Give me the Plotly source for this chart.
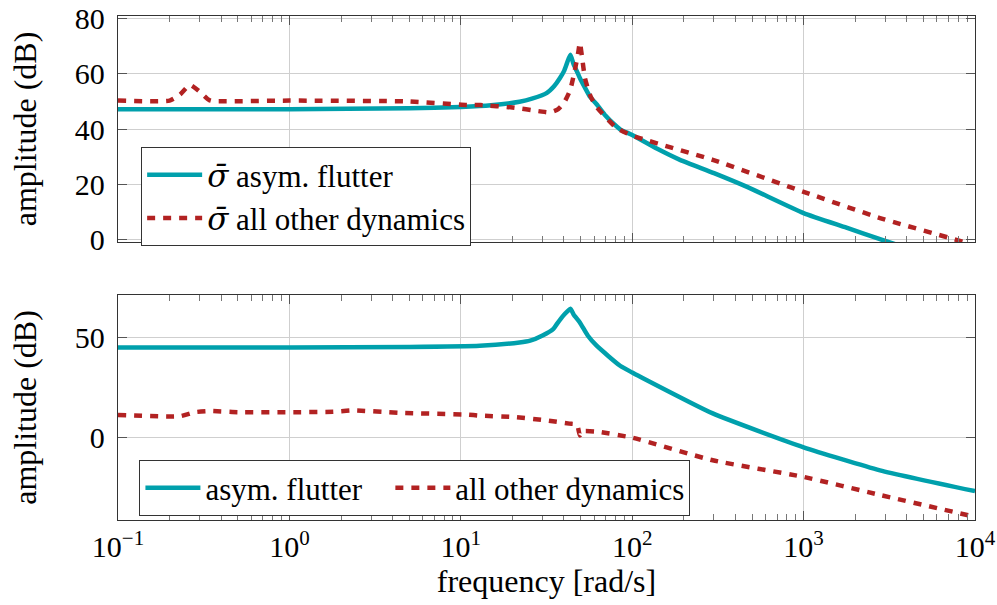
import plotly.graph_objects as go
from plotly.subplots import make_subplots

# ---- upper panel: singular value amplitude (dB) ----
f_top_flutter = [0.1, 1, 5, 10, 15, 22, 26, 31.8, 35, 37.9, 40, 41.7, 43.6, 45.5, 47.5, 49.5, 53, 57, 62, 70, 77, 85, 100, 140, 190, 300, 468, 1000, 1778, 2790, 3500]
a_top_flutter = [47.2, 47.2, 47.5, 48.0, 48.6, 49.9, 51.0, 53.1, 55.5, 58.5, 61.0, 64.0, 66.9, 63.5, 61.0, 58.5, 55.0, 51.5, 49.0, 44.8, 42.2, 39.9, 37.8, 32.8, 28.8, 24.0, 19.0, 9.5, 4.2, 0.0, -2.0]

f_top_other = [0.1, 0.2, 0.23, 0.263, 0.3, 0.34, 0.36, 1, 5, 10.9, 13, 20, 29, 33, 37, 40, 43.4, 46.5, 48.5, 49.5, 51, 53, 57, 62, 81, 100, 295, 1000, 2790, 8900, 10000]
a_top_other = [50.3, 50.3, 52.5, 56.0, 53.5, 50.5, 50.1, 50.3, 50.0, 48.7, 48.7, 47.8, 46.4, 46.0, 47.2, 49.5, 54.0, 62.0, 68.0, 71.3, 66.0, 58.5, 52.0, 48.0, 40.4, 37.6, 28.8, 17.2, 7.7, -1.3, -2.5]

# ---- lower panel: amplitude (dB) ----
f_bot_flutter = [0.1, 1, 5, 12.9, 22, 25.4, 30, 34.7, 36.4, 39.5, 42, 43.6, 45.5, 49.5, 55, 62, 85, 100, 108, 295, 1000, 2790, 10000]
a_bot_flutter = [45.0, 45.0, 45.3, 45.9, 47.5, 48.4, 51.0, 54.3, 56.8, 60.8, 63.2, 64.3, 61.5, 57.5, 51.0, 45.9, 35.9, 32.5, 31.0, 12.1, -4.8, -16.3, -26.7]

f_bot_other = [0.1, 0.23, 0.28, 0.344, 0.5, 1, 1.8, 2.35, 4.4, 10.9, 12.9, 21, 31.6, 43, 47.6, 49.5, 51, 62, 100, 295, 1000, 2790, 10000]
a_bot_other = [11.3, 10.7, 12.7, 13.3, 12.7, 12.7, 12.9, 13.6, 12.4, 11.5, 11.0, 10.2, 8.6, 7.0, 6.5, 1.1, 3.1, 3.0, 0.0, -11.3, -19.6, -28.6, -39.5]

x_tickvals = [0.1, 1, 10, 100, 1000, 10000]
x_ticktext = ["10<sup>\u22121</sup>", "10<sup>0</sup>", "10<sup>1</sup>", "10<sup>2</sup>", "10<sup>3</sup>", "10<sup>4</sup>"]
x_minor = [m * 10 ** e for e in range(-1, 4) for m in range(2, 10)]

TEAL = "#00a0ac"
RED = "#b22222"
FONT = "Liberation Serif, Times New Roman, serif"
FS_TICK = 30
FS_TITLE = 32
FS_LEG = 31
DASH = "8px,8px"
SIGMA_BAR = "<span style=\"font-family:DejaVu Serif;font-style:italic\">\u03c3\u0304</span>"
NBSP = "\u00a0"

fig = make_subplots(rows=2, cols=1, shared_xaxes=True, vertical_spacing=0.105)

line_shape = dict(shape="spline", smoothing=0.5)

fig.add_trace(go.Scatter(x=f_top_flutter, y=a_top_flutter, mode="lines",
                         line=dict(color=TEAL, width=4.5, **line_shape),
                         name=SIGMA_BAR + " asym. flutter", legend="legend"), row=1, col=1)
fig.add_trace(go.Scatter(x=f_top_other, y=a_top_other, mode="lines",
                         line=dict(color=RED, width=4.5, dash=DASH, **line_shape),
                         name=SIGMA_BAR + " all other dynamics", legend="legend"), row=1, col=1)
fig.add_trace(go.Scatter(x=f_bot_flutter, y=a_bot_flutter, mode="lines",
                         line=dict(color=TEAL, width=4.5, **line_shape),
                         name="asym. flutter" + NBSP * 3, legend="legend2"), row=2, col=1)
fig.add_trace(go.Scatter(x=f_bot_other, y=a_bot_other, mode="lines",
                         line=dict(color=RED, width=4.5, dash=DASH, **line_shape),
                         name="all other dynamics", legend="legend2"), row=2, col=1)

axis_common = dict(showline=True, linecolor="#333333", linewidth=1.3, mirror="ticks",
                   ticks="inside", tickcolor="#555555", gridcolor="#cfcfcf", gridwidth=1,
                   zeroline=False, automargin=False,
                   tickfont=dict(family=FONT, size=FS_TICK, color="black"))

xaxis_common = dict(axis_common, type="log", range=[-1, 4], tickmode="array",
                    tickvals=x_tickvals, ticktext=x_ticktext, ticklen=9,
                    minor=dict(tickmode="array", tickvals=x_minor, ticks="inside",
                               ticklen=6, tickcolor="#777777", showgrid=False))

title_font = dict(family=FONT, size=FS_TITLE, color="black")

fig.update_xaxes(xaxis_common, showticklabels=False, row=1, col=1)
fig.update_xaxes(xaxis_common, showticklabels=True,
                 title=dict(text="frequency [rad/s]", font=title_font, standoff=4),
                 row=2, col=1)

fig.update_yaxes(axis_common, range=[-1.0, 81.0], tickvals=[0, 20, 40, 60, 80], ticklen=9,
                 ticklabelstandoff=6,
                 title=dict(text="amplitude (dB)", font=title_font, standoff=28),
                 row=1, col=1)
fig.update_yaxes(axis_common, range=[-41.1, 71.2], tickvals=[0, 50], ticklen=9,
                 ticklabelstandoff=6,
                 title=dict(text="amplitude (dB)", font=title_font, standoff=28),
                 row=2, col=1)

legend_common = dict(bgcolor="white", bordercolor="#333333", borderwidth=1,
                     font=dict(family=FONT, size=FS_LEG, color="black"), itemwidth=55)

fig.update_layout(
    width=997, height=605,
    margin=dict(l=118, r=22, t=16, b=85),
    paper_bgcolor="white", plot_bgcolor="white",
    font=dict(family=FONT, size=FS_TICK, color="black"),
    legend=dict(legend_common, x=0.027, y=0.74, xanchor="left", yanchor="top", tracegroupgap=0),
    legend2=dict(legend_common, x=0.025, y=0.119, xanchor="left", yanchor="top", orientation="h"),
)
fig.update_layout(xaxis=dict(domain=[0, 1]), yaxis=dict(domain=[0.5516, 1.0]),
                  yaxis2=dict(domain=[0.0, 0.4464]))

fig.write_html("out.html")
